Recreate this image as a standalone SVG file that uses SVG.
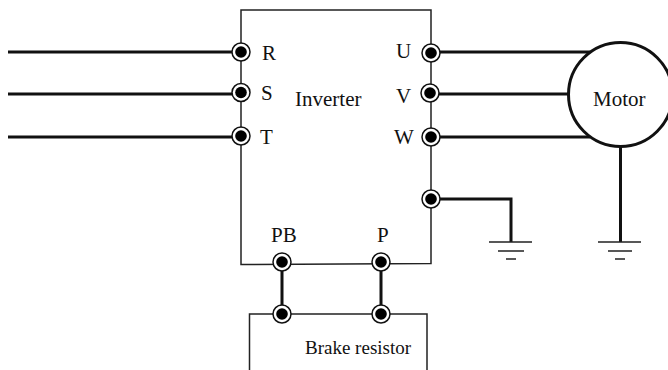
<svg xmlns="http://www.w3.org/2000/svg" width="668" height="370" viewBox="0 0 668 370">
<style>
text{font-family:"Liberation Serif","Times New Roman",serif;font-size:21px;fill:#111}
.small{font-size:19px}
.thin{fill:none;stroke:#222;stroke-width:1.5}
.thick{fill:none;stroke:#111;stroke-width:3}
.ring{fill:#fff;stroke:#111;stroke-width:1.5}
.dot{fill:#000}
</style>
<rect width="668" height="370" fill="#fff"/>
<g id="inverter"><path class="thin" d="M241 52V10H431V263.500L241 264.500V52"/><text x="295" y="106">Inverter</text></g>
<g id="brake-resistor"><path class="thin" d="M249.500 370V314H427V370"/><text x="305" y="354" class="small">Brake resistor</text></g>
<g id="connectors">
<path class="thick" d="M8 52H241M8 94H241M8 137H241"/>
<path class="thick" d="M431 52H590M430 94H568M431 137H590"/>
<path class="thick" d="M431 199H511V242M620.500 145V242"/>
<path class="thick" d="M282 262V314M381 262V314"/>
<path class="thin" d="M489 242H532M498 251H524M506 259H516M598 242H641M608 251H632M615 259H625"/>
</g>
<g id="motor"><circle cx="620.500" cy="94.500" r="52" fill="#fff" stroke="#111" stroke-width="3"/><text x="593" y="106">Motor</text></g>
<g id="terminal-R"><circle class="ring" cx="241" cy="52" r="9"/><circle class="dot" cx="241" cy="52" r="5.800"/><text x="262" y="60">R</text></g>
<g id="terminal-S"><circle class="ring" cx="241" cy="92.500" r="9"/><circle class="dot" cx="241" cy="92.500" r="5.800"/><text x="261" y="100">S</text></g>
<g id="terminal-T"><circle class="ring" cx="241" cy="136" r="9"/><circle class="dot" cx="241" cy="136" r="5.800"/><text x="260" y="144">T</text></g>
<g id="terminal-U"><circle class="ring" cx="431" cy="53" r="9"/><circle class="dot" cx="431" cy="53" r="5.800"/><text x="396" y="58">U</text></g>
<g id="terminal-V"><circle class="ring" cx="430" cy="93" r="9"/><circle class="dot" cx="430" cy="93" r="5.800"/><text x="396" y="103">V</text></g>
<g id="terminal-W"><circle class="ring" cx="431" cy="137" r="9"/><circle class="dot" cx="431" cy="137" r="5.800"/><text x="394" y="144">W</text></g>
<g id="terminal-ground"><circle class="ring" cx="431" cy="199" r="9"/><circle class="dot" cx="431" cy="199" r="5.800"/></g>
<g id="terminal-PB"><circle class="ring" cx="282" cy="262" r="9"/><circle class="dot" cx="282" cy="262" r="5.800"/><text x="271" y="242">PB</text></g>
<g id="terminal-P"><circle class="ring" cx="381" cy="262" r="9"/><circle class="dot" cx="381" cy="262" r="5.800"/><text x="377" y="242">P</text></g>
<g id="terminal-BR1"><circle class="ring" cx="282" cy="314" r="9"/><circle class="dot" cx="282" cy="314" r="5.800"/></g>
<g id="terminal-BR2"><circle class="ring" cx="381" cy="314" r="9"/><circle class="dot" cx="381" cy="314" r="5.800"/></g>
</svg>
